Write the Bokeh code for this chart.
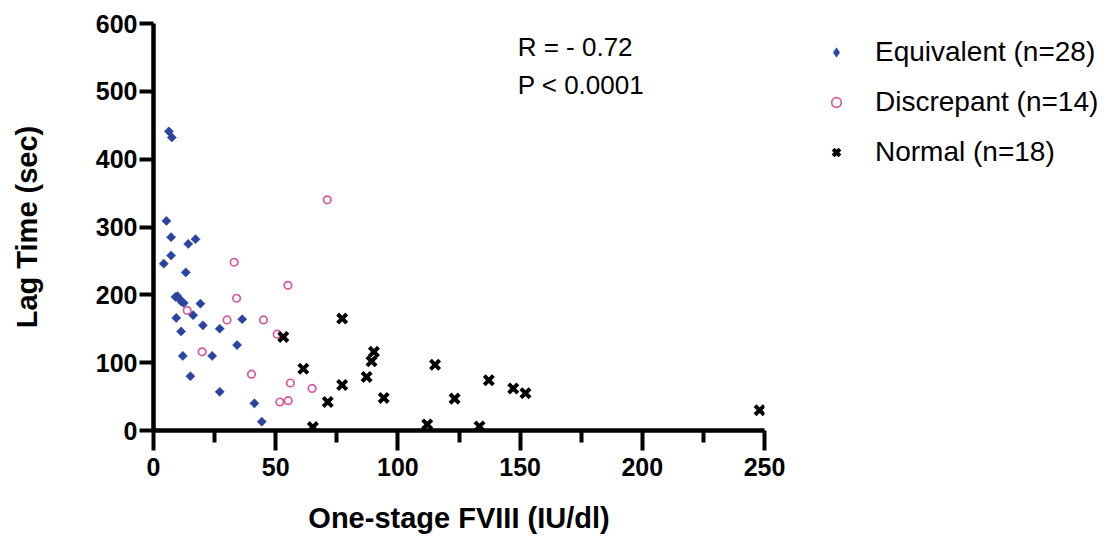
from bokeh.plotting import figure
from bokeh.models import Legend, LegendItem, FixedTicker, Label, Range1d
from bokeh.embed import file_html
from bokeh.resources import INLINE

# Equivalent (n=28)
eq_x = [6.3, 7.5, 5.3, 7.2, 17.2, 14.2, 7.2, 4.2, 13.2, 9.0, 9.8, 10.6, 11.4, 12.4,
        19.2, 9.3, 16.2, 11.3, 20.2, 36.3, 27.1, 34.2, 12.0, 24.0, 15.1, 27.1, 41.3, 44.3]
eq_y = [441, 432, 309, 285, 282, 275, 258, 246, 233, 197, 198, 194, 190, 188,
        187, 166, 170, 146, 155, 164, 150, 126, 110, 110, 80, 57, 40, 13]

# Discrepant (n=14)
dis_x = [33.0, 13.8, 34.0, 30.1, 45.0, 50.6, 19.9, 40.1, 51.7, 71.1, 55.0, 56.0, 64.9, 55.1]
dis_y = [248, 177, 195, 163, 163, 142, 116, 83, 42, 340, 214, 70, 62, 44]

# Normal (n=18)
norm_x = [53.1, 77.2, 61.3, 90.2, 89.2, 87.2, 77.2, 94.2, 71.3, 65.2, 115.2, 112.0,
          123.2, 137.2, 147.2, 152.2, 248.0, 133.4]
norm_y = [138, 165, 91, 116, 102, 79, 67, 48, 42, 5, 97, 9, 47, 74, 62, 55, 30, 6]

series_labels = ["Equivalent (n=28)", "Discrepant (n=14)", "Normal (n=18)"]
x_ticks = [0, 50, 100, 150, 200, 250]
x_minor = [25, 75, 125, 175, 225]
y_ticks = [0, 100, 200, 300, 400, 500, 600]
stats_text = ["R = - 0.72", "P < 0.0001"]

BLUE = "#2B44A0"
PINK = "#D8589F"
FONT = "Liberation Sans"

p = figure(frame_width=611, frame_height=407,
           x_range=Range1d(0, 250), y_range=Range1d(0, 600),
           output_backend="svg", toolbar_location=None,
           min_border_left=153, min_border_top=23, min_border_bottom=100,
           min_border_right=335)
p.grid.visible = False
p.outline_line_color = None
p.background_fill_color = "white"
p.border_fill_color = "white"

# legend key for the diamonds (legend draws markers unrotated); tiny, hidden under the real marks
r1_key = p.scatter(eq_x[:1], eq_y[:1], marker="diamond", size=1,
                   fill_color=BLUE, line_color=BLUE, line_width=0.5)
r1 = p.scatter(eq_x, eq_y, marker="square", angle=45, angle_units="deg", size=6.5,
               fill_color=BLUE, line_color=BLUE, line_width=0.5)
r2 = p.scatter(dis_x, dis_y, marker="circle", size=7.5, fill_color=None, line_color=PINK, line_width=1.7)
r3 = p.scatter(norm_x, norm_y, marker="x", size=13, line_color="black", line_width=4)

# axes
xa = p.xaxis[0]
xa.ticker = FixedTicker(ticks=x_ticks, minor_ticks=x_minor)
xa.axis_line_width = 4.5
xa.major_tick_line_width = 4
xa.minor_tick_line_width = 4
xa.major_tick_out = 20
xa.major_tick_in = 0
xa.minor_tick_out = 12
xa.minor_tick_in = 0
xa.major_label_text_font = FONT
xa.major_label_text_font_style = "bold"
xa.major_label_text_font_size = "25px"
xa.major_label_text_color = "black"
xa.major_label_standoff = 7
xa.axis_label = "One-stage FVIII (IU/dl)"
xa.axis_label_text_font = FONT
xa.axis_label_text_font_style = "bold"
xa.axis_label_text_font_size = "29px"
xa.axis_label_text_color = "black"
xa.axis_label_standoff = 23

ya = p.yaxis[0]
ya.ticker = FixedTicker(ticks=y_ticks, minor_ticks=[])
ya.axis_line_width = 4.5
ya.major_tick_line_width = 4
ya.major_tick_out = 14
ya.major_tick_in = 0
ya.minor_tick_out = 0
ya.minor_tick_in = 0
ya.major_label_text_font = FONT
ya.major_label_text_font_style = "bold"
ya.major_label_text_font_size = "25px"
ya.major_label_text_color = "black"
ya.major_label_standoff = 2
ya.axis_label = "Lag Time (sec)"
ya.axis_label_text_font = FONT
ya.axis_label_text_font_style = "bold"
ya.axis_label_text_font_size = "29px"
ya.axis_label_text_color = "black"
ya.axis_label_standoff = 50

# stats annotation
for txt, yv in zip(stats_text, [566, 509]):
    p.add_layout(Label(x=149, y=yv, text=txt, text_font=FONT, text_font_size="26px",
                       text_baseline="middle", text_align="left", text_color="black"))

legend = Legend(items=[LegendItem(label=series_labels[0], renderers=[r1_key]),
                       LegendItem(label=series_labels[1], renderers=[r2]),
                       LegendItem(label=series_labels[2], renderers=[r3])],
                location=(60, 262))
legend.margin = 0
legend.padding = 0
legend.glyph_width = 24
legend.glyph_height = 28
legend.label_height = 28
legend.spacing = 18
legend.label_standoff = 27
legend.label_text_font = FONT
legend.label_text_font_size = "28px"
legend.label_text_color = "black"
legend.border_line_color = None
legend.background_fill_alpha = 0
p.add_layout(legend, "right")

open("out.html", "w").write(file_html(p, INLINE))
